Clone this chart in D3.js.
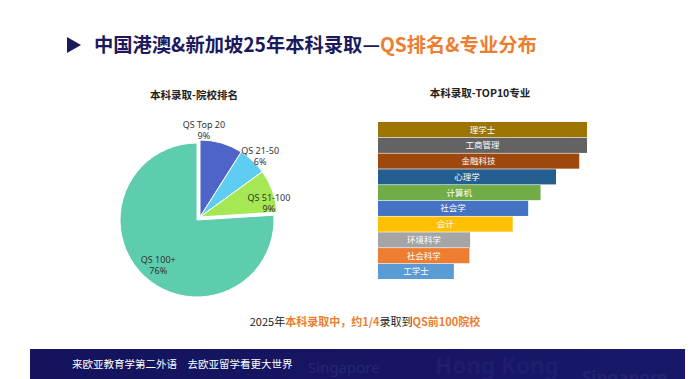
<!DOCTYPE html>
<html>
<head>
<meta charset="utf-8">
<script src="https://cdn.jsdelivr.net/npm/d3@7"></script>
<style>
  body { margin: 0; background: #fff; }
  svg { display: block; font-family: "Noto Sans CJK SC", "Noto Sans", sans-serif; }
</style>
</head>
<body>
<div id="chart"></div>
<script>
// data
var rankGroups = ["QS Top 20", "QS 21-50", "QS 51-100", "QS 100+"];
var rankShares = [9, 6, 9, 76];

var majors = ["理学士", "工商管理", "金融科技", "心理学", "计算机", "社会学", "会计", "环境科学", "社会科学", "工学士"];
var majorCounts = [27, 27, 26, 23, 21, 19.4, 17.4, 11.9, 11.8, 9.8];

// colours
var pieColors = ["#4f64c7", "#5fcdf1", "#a6e853", "#5dcdae"];
var barColors = ["#9c7500", "#636363", "#9e480e", "#255e91", "#70ad47", "#4472c4", "#ffc000", "#a5a5a5", "#ed7d31", "#5b9bd5"];

var W = 695, H = 379;
var navy = "#1b1a5c", orange = "#ed7d31";

var svg = d3.select("#chart").append("svg")
  .attr("width", W).attr("height", H);

/* ---- header ---- */
svg.append("path")
  .attr("d", "M67,37 L81,45 L67,53 Z")
  .attr("fill", navy);

var title = svg.append("text")
  .attr("x", 94).attr("y", 52)
  .style("font-size", "19.3px").style("font-weight", "bold");
title.append("tspan").attr("fill", navy).text("中国港澳&新加坡25年本科录取—");
title.append("tspan").attr("fill", orange).text("QS排名&专业分布");

/* ---- pie: 本科录取-院校排名 ---- */
svg.append("text")
  .attr("x", 194).attr("y", 99)
  .attr("text-anchor", "middle")
  .style("font-size", "10.5px").style("font-weight", "bold")
  .attr("fill", "#222")
  .text("本科录取-院校排名");

var cx = 197, cy = 220, r = 77;
var pie = d3.pie().sort(null).value(function(d) { return d; });
var arcs = pie(rankShares);
var arc = d3.arc().innerRadius(0).outerRadius(r);

var pieG = svg.append("g").attr("transform", "translate(" + cx + "," + cy + ")");

// the three smaller slices are pulled out together toward the upper right
pieG.selectAll("path")
  .data(arcs)
  .enter().append("path")
  .attr("d", arc)
  .attr("transform", function(d, i) { return i < 3 ? "translate(3,-3)" : null; })
  .attr("fill", function(d, i) { return pieColors[i]; })
  .attr("stroke", "#fff")
  .attr("stroke-width", 1);

// label placement: radius factor and angle nudge (degrees) from each bisector
var labelRadius = [1.17, 1.16, 0.96, 0.78];
var labelNudge = [-11.8, 1.8, 6.5, -3];
pieG.selectAll("text.lbl")
  .data(arcs)
  .enter().append("text")
  .attr("class", "lbl")
  .attr("text-anchor", "middle")
  .attr("fill", "#333")
  .style("font-family", "'Noto Sans', 'Open Sans', sans-serif")
  .style("font-size", "9px")
  .each(function(d, i) {
    var a = (d.startAngle + d.endAngle) / 2 + labelNudge[i] * Math.PI / 180;
    var rr = r * labelRadius[i];
    var x = Math.sin(a) * rr, y = -Math.cos(a) * rr;
    var t = d3.select(this);
    t.append("tspan").attr("x", x).attr("y", y - 2.5).text(rankGroups[i]);
    t.append("tspan").attr("x", x).attr("y", y + 8.5).text(d.data + "%");
  });

/* ---- bars: 本科录取-TOP10专业 ---- */
svg.append("text")
  .attr("x", 480).attr("y", 97)
  .attr("text-anchor", "middle")
  .style("font-size", "10.5px").style("font-weight", "bold")
  .attr("fill", "#222")
  .text("本科录取-TOP10专业");

var x = d3.scaleLinear().domain([0, 27]).range([378, 587]);
var y = d3.scaleBand().domain(majors).range([122, 279]).paddingInner(0.04);

var bars = svg.append("g");
bars.selectAll("rect")
  .data(majors)
  .enter().append("rect")
  .attr("x", x(0))
  .attr("y", function(d) { return y(d); })
  .attr("width", function(d, i) { return x(majorCounts[i]) - x(0); })
  .attr("height", y.bandwidth())
  .attr("fill", function(d, i) { return barColors[i]; });

bars.selectAll("text")
  .data(majors)
  .enter().append("text")
  .attr("x", function(d, i) { return (x(0) + x(majorCounts[i])) / 2; })
  .attr("y", function(d) { return y(d) + y.bandwidth() / 2 + 3; })
  .attr("text-anchor", "middle")
  .attr("fill", "#fff")
  .style("font-size", "8.5px")
  .text(function(d) { return d; });

/* ---- caption ---- */
var cap = svg.append("text")
  .attr("x", 365).attr("y", 326)
  .attr("text-anchor", "middle")
  .style("font-size", "11px");
cap.append("tspan").attr("fill", "#222").text("2025年");
cap.append("tspan").attr("fill", orange).style("font-weight", "bold").text("本科录取中，约1/4");
cap.append("tspan").attr("fill", "#222").text("录取到");
cap.append("tspan").attr("fill", orange).style("font-weight", "bold").text("QS前100院校");

/* ---- footer band ---- */
var grad = svg.append("defs").append("linearGradient")
  .attr("id", "foot").attr("x1", 0).attr("x2", 1).attr("y1", 0).attr("y2", 0);
grad.append("stop").attr("offset", "0%").attr("stop-color", "#14135c");
grad.append("stop").attr("offset", "100%").attr("stop-color", "#18186a");

svg.append("rect")
  .attr("x", 30).attr("y", 349).attr("width", 655).attr("height", 30)
  .attr("fill", "url(#foot)");

// faint place names printed on the band
var foot = svg.append("g").style("font-family", "'Noto Sans', 'Open Sans', sans-serif");
foot.append("text").attr("x", 308).attr("y", 373)
  .attr("fill", "#26267a").style("font-size", "15px").text("Singapore");
foot.append("text").attr("x", 435).attr("y", 374)
  .attr("fill", "#1e1e6c").style("font-size", "22.5px").style("font-weight", "bold").text("Hong Kong");
foot.append("text").attr("x", 582).attr("y", 384)
  .attr("fill", "#23236f").style("font-size", "17px").style("font-weight", "bold").text("Singapore");

svg.append("text")
  .attr("x", 72).attr("y", 368)
  .attr("fill", "#fff")
  .style("font-size", "10.5px")
  .text("来欧亚教育学第二外语\u3000去欧亚留学看更大世界");
</script>
</body>
</html>
